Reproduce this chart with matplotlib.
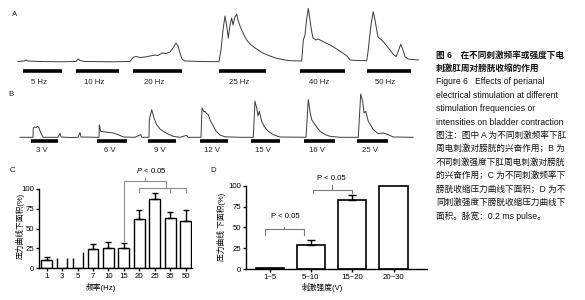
import matplotlib
matplotlib.use("Agg")
import matplotlib.pyplot as plt
import numpy as np

plt.rcParams['font.family'] = ['Liberation Sans', 'Noto Sans CJK SC']
plt.rcParams['mathtext.fontset'] = 'custom'
plt.rcParams['mathtext.it'] = 'Liberation Sans:italic'
plt.rcParams['mathtext.rm'] = 'Liberation Sans'

# ---------------- data ----------------
# Panel A: bladder pressure trace (time in arbitrary units, pressure above baseline)
a_time = [18, 24, 26, 28, 40, 60, 76, 78, 80, 85, 110, 130, 133, 136, 140, 145, 150, 155, 158, 162,
          166, 170, 173, 176, 178, 180, 182, 185, 200, 219, 221, 223, 225, 227, 228.3, 230, 231.7, 233,
          235, 236.7, 238, 240, 241.7, 244, 246.7, 250, 253.3, 258, 263.3, 270, 276.7, 285, 290, 301.7,
          303.3, 305, 306.5, 308.3, 310, 311.7, 313, 316, 318, 323.3, 328, 333.3, 338, 343.3, 347, 350,
          358, 366.7, 368, 369.3, 371, 373.3, 375, 376.7, 378, 380.7, 383.3, 386, 390, 393, 396, 398,
          400.7, 403, 405, 408, 410, 418.3]
a_pressure = [0, 0.5, 1.5, 0.5, 0, -0.3, 0, 2.5, 1, 0, -0.3, 0, 4, 5, 4, 4.5, 5.5, 6.5, 6, 8.5,
              8, 9.5, 13.5, 18.5, 15.5, 8.5, 2.5, 0.5, 0, -0.2, 11.5, 31.5, 45.5, 33.5, 23.5, 36.5, 43.5, 36.5,
              44.5, 47.5, 41.5, 35.5, 31.5, 26.5, 21.5, 17.5, 14.8, 11.5, 8.2, 5.5, 3.2, 1.5, 0.8, 0.5,
              21.5, 26.5, 41.5, 53.2, 41.5, 29.8, 23.5, 21.5, 22.5, 19.8, 17.5, 14.8, 11.5, 8.2, 5.5, 1.5,
              1, 0.8, 9.5, 21.5, 36.5, 49.8, 41.5, 31.5, 24.5, 22.2, 19.8, 16.5, 11.5, 7.5, 4.8, 9.5,
              17.2, 11.5, 4.8, 2.5, 2.2, 1.5]
a_stim_start = [23, 76, 133, 219, 300, 367]
a_stim_end = [62, 119, 182, 266, 345, 411]
a_stim_labels = ["5 Hz", "10 Hz", "20 Hz", "25 Hz", "40 Hz", "50 Hz"]

# Panel B
b_time = [20, 33, 33.3, 34.5, 36, 37.7, 39, 40.5, 41.7, 43.3, 58, 60, 61, 70, 78, 80, 81, 95, 99, 99.3,
          100.7, 105, 110, 113.3, 118.3, 123.3, 135, 140.7, 142, 149, 149.3, 151.7, 154, 156.7, 160,
          163.3, 168, 173.3, 180, 186.7, 188, 201, 202, 204, 205, 207, 208.3, 210, 213.3, 216, 220, 225,
          240, 253.3, 255, 256.7, 258, 259.3, 261.7, 264, 266.7, 270, 273.3, 280, 306, 308.3, 310,
          311.7, 315, 320, 325, 330, 340, 358.3, 360.7, 362.7, 364, 365.7, 368.3, 373.3, 378.3, 383.3,
          388.3, 393.3, 413.3]
b_pressure = [0, 0, 9.3, 10.3, 9.8, 11, 9.3, 5.3, 2.6, 0, 0, 3.8, 0.3, -0.2, 0, 4.8, 0.3, 0, 0, 12.6,
              6, 5.3, 4.8, 4.3, 2.6, 0.3, 0, 2.6, 0, 0, 17.6, 27.6, 19.3, 12.6, 8.3,
              6, 3.3, 1, 0, 2, 0, 0, 29.3, 25.3, 26, 23.3, 22.6, 17.3, 11.3, 6.3, 2.3, 0.5,
              0, 0, 36, 29.3, 21.3, 26, 16, 11.3, 7.6, 4.8, 2.6, 0.3, 0, 37.6, 26,
              17.6, 12.6, 6, 2.8, 1, 0, 0, 43.3, 36, 24.3, 26, 16, 7.6, 3.6, 4.3,
              2.6, 0.3, 0]
b_stim_start = [30.7, 97.3, 148.3, 200, 250.7, 304.3, 356.7]
b_stim_end = [58.3, 126.7, 175.7, 228.3, 280, 335, 388.3]
b_stim_labels = ["3 V", "6 V", "9 V", "12 V", "15 V", "16 V", "25 V"]

# Panel C
c_freq = ["1", "3", "5", "7", "10", "15", "20", "25", "35", "50"]
c_mean = [11, 0, 0, 24, 26, 26, 62, 87, 64, 60]
c_err = [3.5, 0, 0, 6.7, 7.5, 6.5, 11, 7.5, 7.5, 14]
c_ghost_cat = ["3", "3", "5", "5"]
c_ghost_side = [-1, 1, -1, 1]
c_ghost_height = [13.4, 13.4, 13.4, 20]

# Panel D
d_cat = ["1~5", "5~10", "15~20", "20~30"]
d_mean = [1, 29.5, 83.5, 100]
d_err = [0, 5.5, 5.5, 0]

caption = ["图 6　在不同刺激频率或强度下电",
           "刺激肛周对膀胱收缩的作用",
           "Figure 6   Effects of perianal",
           "electrical stimulation at different",
           "stimulation frequencies or",
           "intensities on bladder contraction",
           "图注：图中 A 为不同刺激频率下肛",
           "周电刺激对膀胱的兴奋作用；B 为",
           "不同刺激强度下肛周电刺激对膀胱",
           "的兴奋作用；C 为不同刺激频率下",
           "膀胱收缩压力曲线下面积；D 为不",
           "同刺激强度下膀胱收缩压力曲线下",
           "面积。脉宽：0.2 ms pulse。"]

# ---------------- figure ----------------
W, H = 585, 300
fig = plt.figure(figsize=(W / 100, H / 100), dpi=100)
fig.patch.set_facecolor('white')


def add_ax(x0, y0, x1, y1):
    return fig.add_axes([x0 / W, 1 - y1 / H, (x1 - x0) / W, (y1 - y0) / H])


def ftext(x, y, s, **kw):
    fig.text(x / W, 1 - y / H, s, **kw)


TRACE = '#3a3a3a'
FS = 5.6

# Panel A
axA = add_ax(0, 0, 430, 90)
axA.set_xlim(0, 430)
axA.set_ylim(-28.5, 61.5)
axA.axis('off')
axA.plot(a_time, a_pressure, color=TRACE, lw=0.7)
axA.hlines([-9.5] * len(a_stim_start), a_stim_start, a_stim_end, color='black', lw=2.6)
for s, e, lab in zip(a_stim_start, a_stim_end, a_stim_labels):
    axA.text((s + e) / 2 - 3.5, -20.5, lab, ha='center', va='center', fontsize=FS, color='#222')
ftext(15, 14, "A", ha='center', va='center', fontsize=FS, color='#222')

# Panel B
axB = add_ax(0, 88, 430, 163)
axB.set_xlim(0, 430)
axB.set_ylim(-25.7, 49.3)
axB.axis('off')
axB.plot(b_time, b_pressure, color=TRACE, lw=0.7)
axB.hlines([-4] * len(b_stim_start), b_stim_start, b_stim_end, color='black', lw=2.6)
for s, e, lab in zip(b_stim_start, b_stim_end, b_stim_labels):
    axB.text((s + e) / 2 - 2.5, -13, lab, ha='center', va='center', fontsize=FS, color='#222')
ftext(11, 95, "B", ha='center', va='center', fontsize=FS, color='#222')


def style_axis(ax):
    for sp in ['top', 'right']:
        ax.spines[sp].set_visible(False)
    for sp in ['left', 'bottom']:
        ax.spines[sp].set_linewidth(1.0)
    ax.spines['left'].set_bounds(0, 100)
    ax.set_yticks([0, 25, 50, 75, 100])
    ax.tick_params(axis='both', direction='out', length=2.2, width=1.0, pad=1.2,
                   labelsize=FS, colors='black')
    ax.patch.set_alpha(0)


# Panel C
axC = add_ax(38.5, 173.1, 192, 268.3)
xc = np.arange(len(c_freq))
axC.set_xlim(-0.53, 9.41)
axC.set_ylim(0, 120)
style_axis(axC)
axC.bar(xc, c_mean, width=0.71, color='white', edgecolor='black', linewidth=1.0, zorder=2)
ce = np.array(c_err)
m = ce > 0
axC.errorbar(xc[m], np.array(c_mean)[m], yerr=[np.zeros(m.sum()), ce[m]], fmt='none',
             ecolor='black', elinewidth=1.0, capsize=2.3, capthick=1.0, zorder=3)
for cat, side, h in zip(c_ghost_cat, c_ghost_side, c_ghost_height):
    xi = c_freq.index(cat) + side * 0.32
    axC.vlines(xi, 0, h, color='black', lw=1.0, zorder=2)
axC.set_xticks(xc)
axC.set_xticklabels(c_freq)
gC = '#8c8c8c'
# significance brackets
axC.plot([5, 5, 7.71, 7.71], [34, 110.4, 110.4, 101.7], color=gC, lw=0.8, clip_on=False)
axC.plot([6.37, 6.37], [110.4, 114], color=gC, lw=0.8, clip_on=False)
axC.plot([6, 9], [101.7, 101.7], color=gC, lw=0.8, clip_on=False)
for xx in [6, 8, 9]:
    axC.plot([xx, xx], [101.7, 96.6], color=gC, lw=0.8, clip_on=False)
axC.text(6.8, 122.7, r"$P$ < 0.05", ha='center', va='center', fontsize=FS, clip_on=False)
ftext(12, 170, "C", ha='center', va='center', fontsize=FS, color='#222')
ftext(20, 226, "压力曲线下面积(%)", ha='center', va='center', rotation=90, fontsize=FS)
ftext(101, 287.5, "频率(Hz)", ha='center', va='center', fontsize=FS)

# Panel D
axD = add_ax(246, 173.5, 427, 269)
xd = np.arange(len(d_cat))
axD.set_xlim(-0.57, 3.81)
axD.set_ylim(0, 115)
style_axis(axD)
axD.bar(xd, d_mean, width=0.68, color='white', edgecolor='black', linewidth=1.2, zorder=2)
de = np.array(d_err)
m = de > 0
axD.errorbar(xd[m], np.array(d_mean)[m], yerr=[np.zeros(m.sum()), de[m]], fmt='none',
             ecolor='black', elinewidth=1.0, capsize=3.0, capthick=1.0, zorder=3)
axD.set_xticks(xd)
axD.set_xticklabels(d_cat)
gD = '#7a7a7a'
axD.plot([-0.12, -0.12, 0.83, 0.83], [41, 48.2, 48.2, 41], color=gD, lw=0.8)
axD.plot([0.36, 0.36], [48.2, 51], color=gD, lw=0.8)
axD.text(0.37, 63, "P < 0.05", ha='center', va='center', fontsize=FS)
axD.plot([1.05, 1.05, 2.0, 2.0], [91.2, 95.2, 95.2, 91.2], color=gD, lw=0.8, clip_on=False)
axD.plot([1.52, 1.52], [95.2, 101], color=gD, lw=0.8, clip_on=False)
axD.text(1.5, 109, "P < 0.05", ha='center', va='center', fontsize=FS, clip_on=False)
ftext(213, 171, "D", ha='center', va='center', fontsize=FS, color='#222')
ftext(221, 227, "压力曲线 下面积(%)", ha='center', va='center', rotation=90, fontsize=FS)
ftext(323, 288, "刺激强度(V)", ha='center', va='center', fontsize=FS)

# Caption
for k, line in enumerate(caption):
    ftext(436, 55 + 13.4 * k, line, ha='left', va='center', fontsize=6.2,
          fontweight='bold' if k < 2 else 'normal', color='#111')

fig.savefig("out.png", dpi=100, facecolor='white')
